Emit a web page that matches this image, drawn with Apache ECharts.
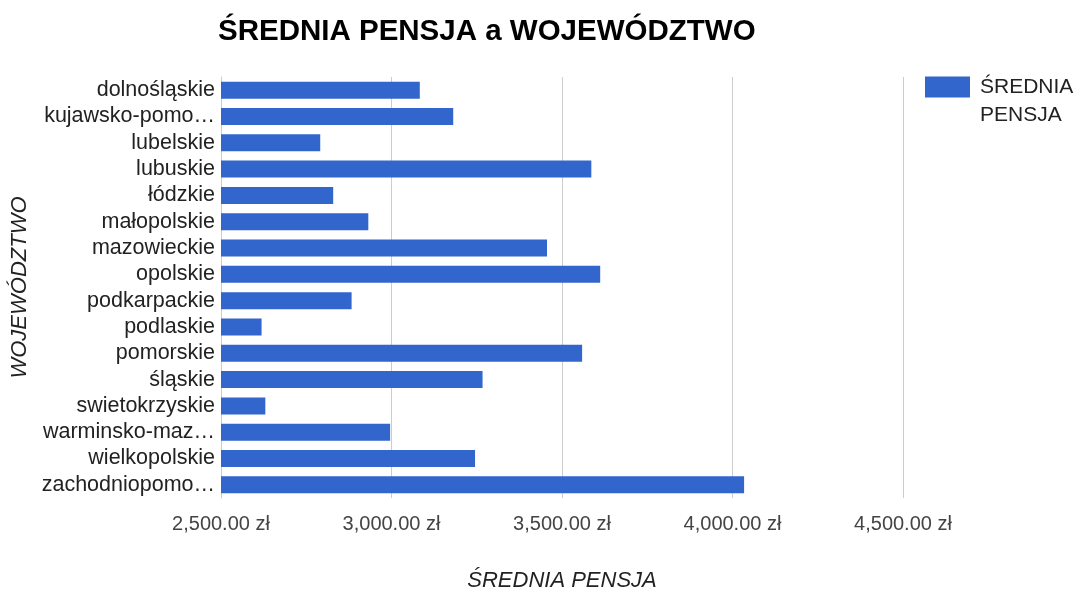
<!DOCTYPE html>
<html>
<head>
<meta charset="utf-8">
<style>
  html, body { margin: 0; padding: 0; background: #fff; }
  #chart-container { width: 1082px; height: 590px; }
</style>
<script src="https://cdn.jsdelivr.net/npm/echarts@6/dist/echarts.min.js"></script>
</head>
<body>
<div id="chart-container"></div>
<script>
var categories = ['dolnośląskie', 'kujawsko-pomorskie', 'lubelskie', 'lubuskie', 'łódzkie',
  'małopolskie', 'mazowieckie', 'opolskie', 'podkarpackie', 'podlaskie', 'pomorskie',
  'śląskie', 'swietokrzyskie', 'warminsko-mazurskie', 'wielkopolskie', 'zachodniopomorskie'];
var pensja = [3083, 3181, 2791, 3586, 2829, 2932, 3456, 3612, 2883, 2619, 3559, 3267, 2630, 2996, 3245, 4034];
var xTicks = [2500, 3000, 3500, 4000, 4500];

var dom = document.getElementById('chart-container');
var myChart = echarts.init(dom, null, { renderer: 'canvas' });

// long names get cut like in the original chart
function shorten(s) {
  return s.length > 15 ? s.slice(0, 13) + '…' : s;
}
function money(v) {
  return v.toFixed(2).replace(/\B(?=(\d{3})+(?!\d))/g, ',') + ' zł';
}

var font = 'Liberation Sans, Arial, sans-serif';

var option = {
  animation: false,
  title: {
    text: 'ŚREDNIA PENSJA a WOJEWÓDZTWO',
    left: 213,
    top: 12,
    textStyle: { fontFamily: font, fontSize: 29.5, fontWeight: 'bold', color: '#000' }
  },
  legend: {
    data: ['ŚREDNIA PENSJA'],
    left: 925,
    top: 45,
    padding: 0,
    icon: 'rect',
    itemWidth: 45,
    itemHeight: 21,
    formatter: function () { return ' \nŚREDNIA\nPENSJA'; },
    textStyle: { fontFamily: font, fontSize: 21, color: '#222', lineHeight: 28, padding: [0, 0, 0, 5] }
  },
  grid: { left: 221, right: 179, top: 77, bottom: 92, outerBoundsMode: 'none', containLabel: false },
  xAxis: {
    type: 'value',
    min: xTicks[0],
    max: xTicks[xTicks.length - 1],
    interval: 500,
    name: 'ŚREDNIA PENSJA',
    nameLocation: 'middle',
    nameGap: 72,
    nameTextStyle: { fontFamily: font, fontSize: 22, fontStyle: 'italic', color: '#222' },
    axisLine: { show: false },
    axisTick: { show: false },
    axisLabel: { formatter: money, fontFamily: font, fontSize: 20, color: '#444', margin: 16 },
    splitLine: { lineStyle: { color: '#cccccc', width: 1 } }
  },
  yAxis: {
    type: 'category',
    data: categories,
    inverse: true,
    name: 'WOJEWÓDZTWO',
    nameLocation: 'middle',
    nameGap: 182,
    nameTextStyle: { fontFamily: font, fontSize: 22, fontStyle: 'italic', color: '#222' },
    axisLine: { show: true, lineStyle: { color: '#cccccc' } },
    axisTick: { show: false },
    axisLabel: { interval: 0, formatter: shorten, fontFamily: font, fontSize: 21.5, color: '#222', margin: 6 }
  },
  series: [{
    name: 'ŚREDNIA PENSJA',
    type: 'bar',
    data: pensja,
    barWidth: 17,
    itemStyle: { color: '#3366cc' }
  }]
};

myChart.setOption(option);
window.addEventListener('resize', myChart.resize);
</script>
</body>
</html>
